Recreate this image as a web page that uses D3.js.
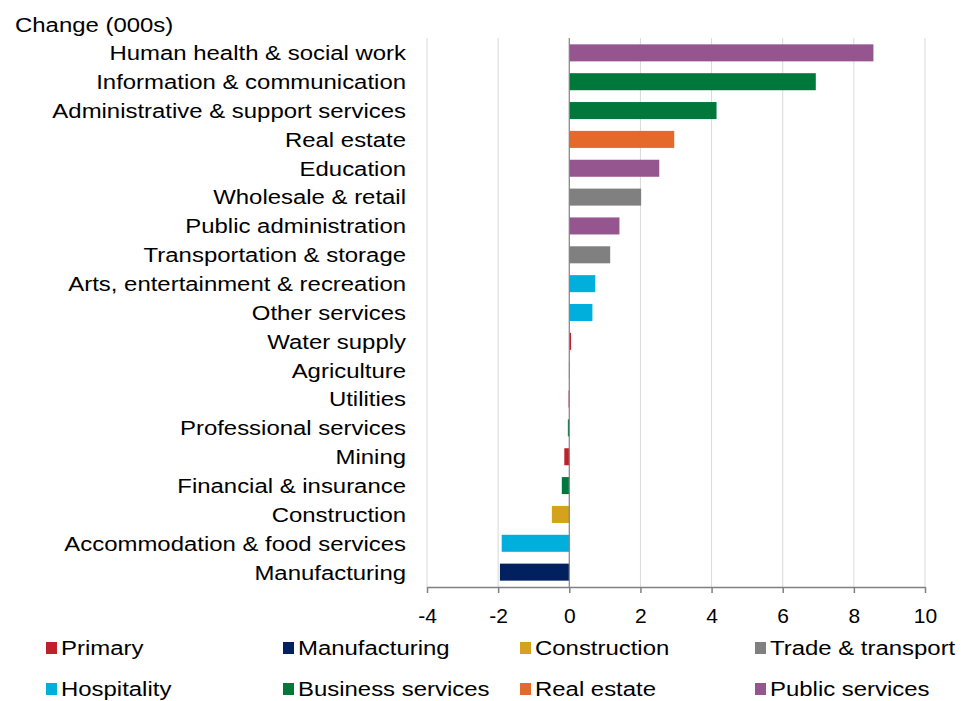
<!DOCTYPE html>
<html>
<head>
<meta charset="utf-8">
<script src="https://cdn.jsdelivr.net/npm/d3@7"></script>
<style>
  body { margin: 0; background: #fff; }
  svg { display: block; font-family: "Liberation Sans", Arial, sans-serif; }
</style>
</head>
<body>
<svg id="chart" width="969" height="701"></svg>
<script>
// data
var categories = ["Human health & social work", "Information & communication", "Administrative & support services",
  "Real estate", "Education", "Wholesale & retail", "Public administration", "Transportation & storage",
  "Arts, entertainment & recreation", "Other services", "Water supply", "Agriculture", "Utilities",
  "Professional services", "Mining", "Financial & insurance", "Construction",
  "Accommodation & food services", "Manufacturing"];
var values = [8.55, 6.93, 4.14, 2.95, 2.53, 2.02, 1.41, 1.15, 0.73, 0.65, 0.05, -0.01, -0.02, -0.04, -0.14, -0.21, -0.49, -1.9, -1.95];
var groups = ["Public services", "Business services", "Business services", "Real estate", "Public services",
  "Trade & transport", "Public services", "Trade & transport", "Hospitality", "Hospitality", "Primary",
  "Primary", "Primary", "Business services", "Primary", "Business services", "Construction",
  "Hospitality", "Manufacturing"];
var legendNames = ["Primary", "Manufacturing", "Construction", "Trade & transport",
  "Hospitality", "Business services", "Real estate", "Public services"];
var legendColors = ["#c0202b", "#002060", "#d4a21c", "#808080", "#00afdc", "#00783c", "#e5692b", "#95558f"];
var xTicks = [-4, -2, 0, 2, 4, 6, 8, 10];

var svg = d3.select("#chart");
var color = d3.scaleOrdinal().domain(legendNames).range(legendColors);
var FS = 21, STRETCH = "scale(1.14,1)"; // reference text runs wider than Liberation Sans

var plotL = 427, plotR = 925, plotT = 38, plotB = 587;
var x = d3.scaleLinear().domain([-4, 10]).range([plotL, plotR]);
var y = d3.scaleBand().domain(categories).range([plotT, plotB]).paddingInner(0.41).paddingOuter(0.22);

// grid
svg.append("g").selectAll("line").data(xTicks.filter(function(d){ return d !== 0; }))
  .enter().append("line")
  .attr("x1", function(d){ return x(d); }).attr("x2", function(d){ return x(d); })
  .attr("y1", plotT).attr("y2", plotB)
  .attr("stroke", "#d9d9d9").attr("stroke-width", 1);

// bars
svg.append("g").selectAll("rect").data(categories).enter().append("rect")
  .attr("x", function(d, i){ return x(Math.min(0, values[i])); })
  .attr("width", function(d, i){ return Math.abs(x(values[i]) - x(0)); })
  .attr("y", function(d){ return y(d); })
  .attr("height", y.bandwidth())
  .attr("fill", function(d, i){ return color(groups[i]); });

// zero line
svg.append("line").attr("x1", x(0)).attr("x2", x(0)).attr("y1", plotT).attr("y2", plotB)
  .attr("stroke", "#808080").attr("stroke-width", 1.2);

// x axis
var xAxis = svg.append("g").attr("transform", "translate(0," + plotB + ")")
  .call(d3.axisBottom(x).tickValues(xTicks).tickFormat(function(d){ return String(d); })
    .tickSize(6).tickSizeOuter(0).tickPadding(15));
xAxis.select(".domain").attr("stroke", "#808080").attr("stroke-width", 1.5);
xAxis.selectAll(".tick line").attr("stroke", "#808080").attr("stroke-width", 1.5);
xAxis.selectAll(".tick text").attr("font-size", FS).attr("fill", "#000")
  .attr("font-family", "'Liberation Sans', Arial, sans-serif");

// category labels
svg.append("g").selectAll("text").data(categories).enter().append("text")
  .attr("transform", function(d){ return "translate(406," + (y(d) + y.bandwidth() / 2) + ") " + STRETCH; })
  .attr("dy", "0.35em")
  .attr("text-anchor", "end")
  .attr("font-size", FS)
  .text(function(d){ return d; });

// axis title
svg.append("text").attr("transform", "translate(15,32) " + STRETCH).attr("font-size", FS).text("Change (000s)");

// legend
var legX = [46, 283, 520, 755];
var leg = svg.append("g").selectAll("g").data(legendNames).enter().append("g")
  .attr("transform", function(d, i){ return "translate(" + legX[i % 4] + "," + (i < 4 ? 648 : 689) + ")"; });
leg.append("rect").attr("x", 0).attr("y", -6).attr("width", 11).attr("height", 12)
  .attr("fill", function(d){ return color(d); });
leg.append("text").attr("transform", "translate(15,0) " + STRETCH).attr("dy", "0.35em").attr("font-size", FS)
  .text(function(d){ return d; });
</script>
</body>
</html>
